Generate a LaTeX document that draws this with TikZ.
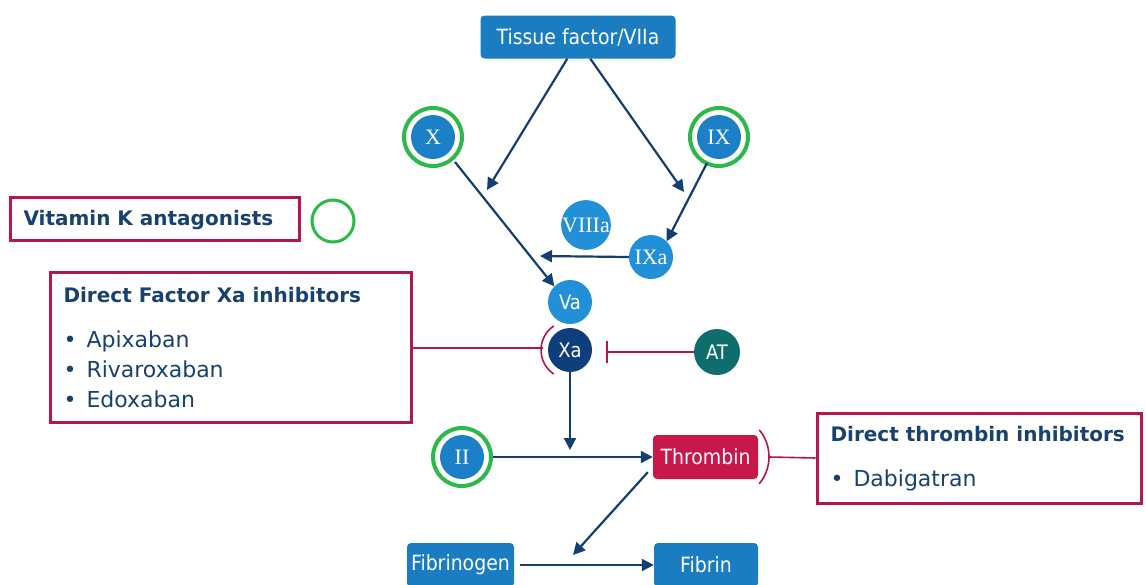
\documentclass[tikz,border=0pt]{standalone}
\usepackage{fontspec}
\setmainfont{DejaVu Sans}
\newfontfamily\condf{DejaVu Sans Condensed}
\newfontfamily\romf{Liberation Serif}
\usetikzlibrary{arrows.meta}
\definecolor{boxblue}{HTML}{1A7CC1}
\definecolor{circblue}{HTML}{1B80C8}
\definecolor{lightblue}{HTML}{2190D6}
\definecolor{darkxa}{HTML}{0E3F7C}
\definecolor{teal}{HTML}{0F6E6B}
\definecolor{crim}{HTML}{C8174A}
\definecolor{ring}{HTML}{2DB84C}
\definecolor{navy}{HTML}{174270}
\definecolor{arrowc}{HTML}{123F72}
\definecolor{redline}{HTML}{B3174B}
\begin{document}
\begin{tikzpicture}[x=1pt,y=-1pt,
  pbox/.style={fill=boxblue,rounded corners=4pt,text=white,font=\condf\fontsize{21}{24}\selectfont,inner sep=0pt},
  fcirc/.style={circle,fill=circblue,text=white,minimum size=44pt,inner sep=0pt,font=\romf\fontsize{22}{24}\selectfont},
  sfc/.style={font=\condf\fontsize{20}{24}\selectfont},
  ringc/.style={circle,draw=ring,line width=4pt,minimum size=58pt,inner sep=0pt},
  arr/.style={draw=arrowc,line width=2.2pt,-{Triangle[length=12pt,width=12pt]}},
  rbox/.style={draw=redline,line width=3pt,inner sep=0pt},
  rline/.style={draw=redline,line width=1.6pt},
  head/.style={text=navy,font=\bfseries\fontsize{20}{24}\selectfont},
  items/.style={text=navy,font=\fontsize{22}{30}\selectfont,align=left}]
\useasboundingbox (0,0) rectangle (1146,584);
% nodes
\node[pbox,minimum width=195pt,minimum height=43pt] (tf) at (578,37) {Tissue factor/VIIa};
\node[ringc] (xr) at (433,137) {};
\node[fcirc] (x) at (433,137) {X};
\node[ringc] (ixr) at (719,137) {};
\node[fcirc] (ix) at (719,137) {IX};
\node[fcirc,fill=lightblue,minimum size=48pt] (viiia) at (586,225) {VIIIa};
\node[fcirc,fill=lightblue] (ixa) at (651,257) {IXa};
\node[fcirc,fill=lightblue,sfc] (va) at (570,302) {Va};
\node[fcirc,fill=darkxa,sfc] (xa) at (570,350) {Xa};
\node[fcirc,fill=teal,minimum size=46pt,sfc] (at) at (717,352) {AT};
\node[ringc] (iir) at (462,457) {};
\node[fcirc] (ii) at (462,457) {II};
\node[pbox,fill=crim,minimum width=105pt,minimum height=44pt] (thr) at (705.5,457) {Thrombin};
\node[pbox,minimum width=107pt,minimum height=44pt] (fbg) at (460.5,565) {Fibrinogen};
\node[pbox,minimum width=104pt,minimum height=44pt] (fbn) at (706,565) {Fibrin};
% drug boxes
\node[rbox,minimum width=289pt,minimum height=43pt] (vk) at (154.5,218.5) {};
\node[anchor=west,head] (vkt) at (20,220) {Vitamin K antagonists};
\node[circle,draw=ring,line width=3pt,minimum size=42pt,inner sep=0pt] (vkc) at (333,221) {};
\node[rbox,minimum width=361pt,minimum height=150pt] (dxa) at (230.5,347) {};
\node[anchor=north west,head] (dxat) at (60,284) {Direct Factor Xa inhibitors};
\node[anchor=north west,items] (dxal) at (60,327)
  {\textbullet\hspace{10pt}Apixaban\\\textbullet\hspace{10pt}Rivaroxaban\\\textbullet\hspace{10pt}Edoxaban};
\node[rbox,minimum width=324pt,minimum height=90pt] (dti) at (979,458) {};
\node[anchor=north west,head] (dtit) at (827,423) {Direct thrombin inhibitors};
\node[anchor=north west,items] (dtil) at (827,466) {\textbullet\hspace{10pt}Dabigatran};
% free ends
\coordinate (e1) at (487,190);
\coordinate (e2) at (684,192);
\coordinate (e3) at (540,256);
\coordinate (e4) at (570,450);
\coordinate (e5) at (573,555);
% arrows
\draw[arr] (tf.south west) ++(87,0) -- (e1);
\draw[arr] (tf.south west) ++(110,0) -- (e2);
\draw[arr] (ix) ++(-12,26) -- (ixa.north east);
\draw[arr] (ixa.west) -- (e3);
\draw[arr] (x) ++(22,25) -- (va.north west);
\draw[arr] (xa.south) -- (e4);
\draw[arr] (ii.east) ++(9,0) -- (thr.west);
\draw[arr] (thr.south west) ++(-5,-7) -- (e5);
\draw[arr] (fbg.east) ++(6,0) -- (fbn.west);
% inhibition
\draw[rline] (at.west) -- ++(-87,0) coordinate (tb);
\draw[rline] (tb) ++(0,-11) -- ++(0,22);
\draw[rline] (xa) ++(124:29) arc[start angle=124,end angle=236,radius=29];
\draw[rline] (dxa.east) ++(0,1) -- ++(130,0);
\draw[rline] (thr.north east) ++(1,-5) arc[start angle=40,end angle=-40,radius=42pt];
\draw[rline] (thr.east) ++(11,0) -- (dti.west);
\end{tikzpicture}
\end{document}
